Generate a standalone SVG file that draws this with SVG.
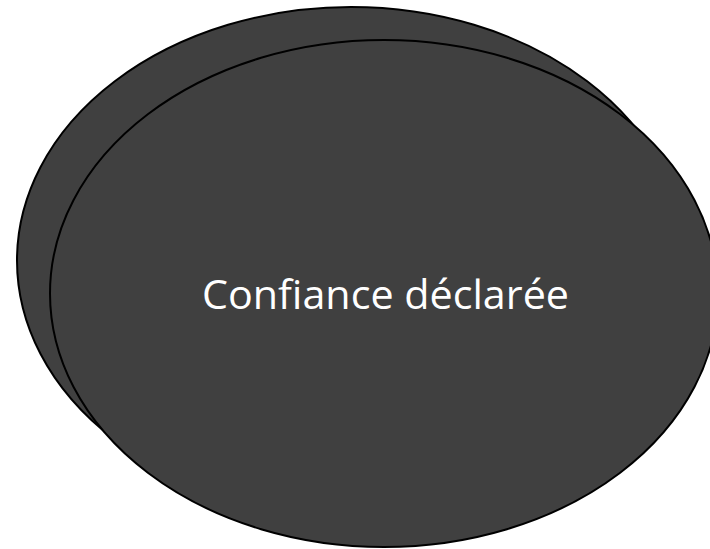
<svg xmlns="http://www.w3.org/2000/svg" width="710" height="549" viewBox="0 0 710 549">
<style>
.n{fill:#404040;stroke:#000;stroke-width:2}
.t{font-family:"Open Sans","Noto Sans",sans-serif;font-size:40px;fill:#fff}
</style>
<rect width="710" height="549" fill="#fff"/>
<g id="back"><ellipse class="n" cx="351" cy="260.5" rx="334" ry="253.5"/></g>
<g id="front"><ellipse class="n" cx="384" cy="293.5" rx="334" ry="253.5"/>
<text class="t" x="385.5" y="309" text-anchor="middle" textLength="367" lengthAdjust="spacingAndGlyphs">Confiance déclarée</text></g>
<g id="connectors"/>
</svg>
